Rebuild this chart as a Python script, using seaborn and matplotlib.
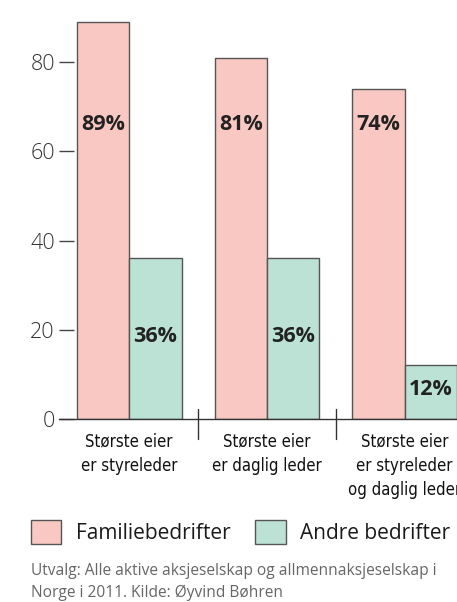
import matplotlib
matplotlib.use("Agg")
import matplotlib.pyplot as plt
import seaborn as sns
import pandas as pd
from matplotlib.patches import Patch
from matplotlib import font_manager
from matplotlib.font_manager import FontProperties

categories = ["Største eier\ner styreleder", "Største eier\ner daglig leder",
              "Største eier\ner styreleder\nog daglig leder"]
series_names = ["Familiebedrifter", "Andre bedrifter"]
familie = [89, 81, 74]
andre = [36, 36, 12]
yticks = [0, 20, 40, 60, 80]
note = "Utvalg: Alle aktive aksjeselskap og allmennaksjeselskap i\nNorge i 2011. Kilde: Øyvind Bøhren"

colors = ["#F9C8C2", "#BBE2D5"]
edge = "#555555"

sns.set_theme(style="white")
plt.rcParams["font.family"] = ["Open Sans", "DejaVu Sans"]

# look for a condensed face for the category labels
cond_file = None
for f in font_manager.fontManager.ttflist:
    fn = f.fname.lower()
    if ("condensed" in fn or "narrow" in fn) and "bold" not in fn and "italic" not in fn and "oblique" not in fn:
        cond_file = f.fname
        break
if cond_file:
    cond_fp = FontProperties(fname=cond_file, size=12)
else:
    cond_fp = FontProperties(family="Roboto", size=12.5)

df = pd.DataFrame({
    "cat": categories * 2,
    "serie": [series_names[0]] * 3 + [series_names[1]] * 3,
    "val": familie + andre,
})

fig = plt.figure(figsize=(4.57, 6.02), dpi=100)
ax = fig.add_axes([59 / 457, 183 / 602, 398 / 457, 419 / 602])
sns.barplot(data=df, x="cat", y="val", hue="serie", palette=colors,
            width=0.76, edgecolor=edge, linewidth=1.0, ax=ax, legend=False,
            saturation=1)
ax.set_xlim(-0.51, 2.38)
ax.set_ylim(0, 93.9)
ax.set_xlabel("")
ax.set_ylabel("")
for s in ["top", "right", "left"]:
    ax.spines[s].set_visible(False)
ax.spines["bottom"].set_color("#333333")
ax.spines["bottom"].set_linewidth(1.0)

ax.set_yticks(yticks)
ax.tick_params(axis="y", left=True, direction="in", length=11, width=1.0,
               color="#444444", pad=3, labelsize=15.5, labelcolor="#333333")
for lab in ax.get_yticklabels():
    lab.set_fontweight("light")

# x tick labels at centers, separators at boundaries
ax.set_xticks(range(3))
ax.set_xticklabels(categories, color="#111111", linespacing=1.42)
for lab in ax.get_xticklabels():
    lab.set_fontproperties(cond_fp)
ax.tick_params(axis="x", bottom=False, pad=4)
for b in [0.5, 1.5]:
    ax.plot([b, b], [-4.5, 2.2], color="#333333", lw=1.0, clip_on=False)

# value labels
min_f = min(familie)
for i, v in enumerate(familie):
    ax.text(i - 0.19, min_f - 8, f"{v}%", ha="center", va="center",
            fontsize=15.5, fontweight="bold", color="#222222")
for i, v in enumerate(andre):
    ax.text(i + 0.19, v / 2 + 0.5, f"{v}%", ha="center", va="center",
            fontsize=15.5, fontweight="bold", color="#222222")

handles = [Patch(facecolor=c, edgecolor=edge, linewidth=1.0) for c in colors]
fig.legend(handles, series_names, loc="center left",
           bbox_to_anchor=(31 / 457, 1 - 532 / 602), ncol=2, frameon=False,
           prop={"size": 15, "weight": "medium"},
           handlelength=1.45, handleheight=1.45,
           handletextpad=0.7, columnspacing=1.2, borderaxespad=0,
           borderpad=0, labelcolor="#1a1a1a")

fig.text(31 / 457, 1 - 582 / 602, note, ha="left", va="center",
         fontsize=11.2, color="#666666", linespacing=1.38)

fig.savefig("out.png", dpi=100)
